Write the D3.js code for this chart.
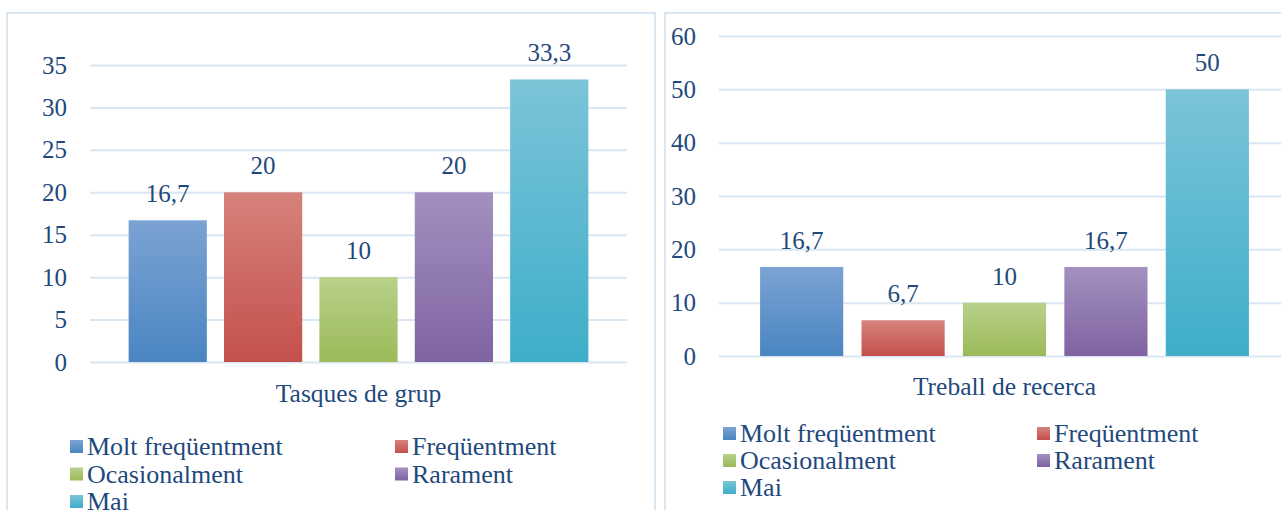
<!DOCTYPE html>
<html>
<head>
<meta charset="utf-8">
<script src="https://cdn.jsdelivr.net/npm/d3@7"></script>
<style>
  body { margin: 0; background: #fff; }
  svg text { font-family: 'Liberation Serif', 'Times New Roman', serif; fill: #1f497d; }
</style>
</head>
<body>
<div id="chartContainer"></div>
<script>
const categories = ['Molt freqüentment', 'Freqüentment', 'Ocasionalment', 'Rarament', 'Mai'];
const tasquesValues = [16.7, 20, 10, 20, 33.3];
const treballValues = [16.7, 6.7, 10, 16.7, 50];
const tasquesTicks = [0, 5, 10, 15, 20, 25, 30, 35];
const treballTicks = [0, 10, 20, 30, 40, 50, 60];
const chartTitles = ['Tasques de grup', 'Treball de recerca'];

// gradient stops per category: [top, bottom]
const colors = [
    ['#7ba3d3', '#4a85c2'],
    ['#d6827b', '#c4504c'],
    ['#b9d18b', '#9aba58'],
    ['#a390c0', '#7f63a1'],
    ['#7bc4d8', '#3eaec9'],
];

const svgWidth = 1281;
const svgHeight = 510;

const locale = d3.formatLocale({ decimal: ',', thousands: '.', grouping: [3], currency: ['', '€'] });
const formatValue = (v) => (Number.isInteger(v) ? String(v) : locale.format('.1f')(v));

const svg = d3.select('#chartContainer').append('svg').attr('width', svgWidth).attr('height', svgHeight);

const defs = svg.append('defs');
colors.forEach((c, i) => {
    const g = defs.append('linearGradient').attr('id', 'grad' + i).attr('x1', 0).attr('y1', 0).attr('x2', 0).attr('y2', 1);
    g.append('stop').attr('offset', '0%').attr('stop-color', c[0]);
    g.append('stop').attr('offset', '100%').attr('stop-color', c[1]);
});

const panels = [
    {
        frame: { x: 7, y: 13, w: 648, h: 520 },
        x0: 90, x1: 627, yTop: 65, yBottom: 362, max: 35,
        values: tasquesValues, ticks: tasquesTicks, title: chartTitles[0], titleY: 402,
        legendX: 70, legendX2: 395, legendY: 440, rowGap: 27.5,
    },
    {
        frame: { x: 665, y: 13, w: 640, h: 520 },
        x0: 719, x1: 1290, yTop: 36, yBottom: 356, max: 60,
        values: treballValues, ticks: treballTicks, title: chartTitles[1], titleY: 395,
        legendX: 723, legendX2: 1037, legendY: 427, rowGap: 27,
    },
];

panels.forEach((p) => {
    svg.append('rect')
        .attr('x', p.frame.x).attr('y', p.frame.y)
        .attr('width', p.frame.w).attr('height', p.frame.h)
        .attr('fill', 'none').attr('stroke', '#dbe6f3').attr('stroke-width', 2);

    const xScale = d3.scaleBand().domain(categories).range([p.x0, p.x1]).paddingInner(0.18).paddingOuter(0.405);
    const yScale = d3.scaleLinear().domain([0, p.max]).range([p.yBottom, p.yTop]);

    const yAxis = d3.axisLeft(yScale).tickValues(p.ticks).tickSize(-(p.x1 - p.x0)).tickPadding(23);
    const axisG = svg.append('g').attr('transform', `translate(${p.x0}, 0)`).call(yAxis);
    axisG.select('.domain').remove();
    axisG.selectAll('.tick line').attr('stroke', '#dbe6f3').attr('stroke-width', 2);
    axisG.selectAll('.tick text').style('font-size', '25px').attr('fill', '#1f497d');

    svg.append('g').selectAll('rect')
        .data(p.values)
        .enter()
        .append('rect')
        .attr('x', (d, i) => xScale(categories[i]))
        .attr('y', (d) => yScale(d))
        .attr('width', xScale.bandwidth())
        .attr('height', (d) => p.yBottom - yScale(d))
        .attr('fill', (d, i) => `url(#grad${i})`);

    svg.append('g').selectAll('text')
        .data(p.values)
        .enter()
        .append('text')
        .attr('x', (d, i) => xScale(categories[i]) + xScale.bandwidth() / 2)
        .attr('y', (d) => yScale(d) - 18)
        .attr('text-anchor', 'middle')
        .style('font-size', '25px')
        .text((d) => formatValue(d));

    svg.append('text')
        .attr('x', (p.x0 + p.x1) / 2)
        .attr('y', p.titleY)
        .attr('text-anchor', 'middle')
        .style('font-size', '25.5px')
        .text(p.title);

    const legend = svg.append('g');
    categories.forEach((c, i) => {
        const lx = i % 2 === 0 ? p.legendX : p.legendX2;
        const ly = p.legendY + Math.floor(i / 2) * p.rowGap;
        legend.append('rect')
            .attr('x', lx).attr('y', ly).attr('width', 13).attr('height', 13)
            .attr('fill', `url(#grad${i})`);
        legend.append('text')
            .attr('x', lx + 17)
            .attr('y', ly + 15)
            .style('font-size', '26px')
            .text(c);
    });
});
</script>
</body>
</html>
